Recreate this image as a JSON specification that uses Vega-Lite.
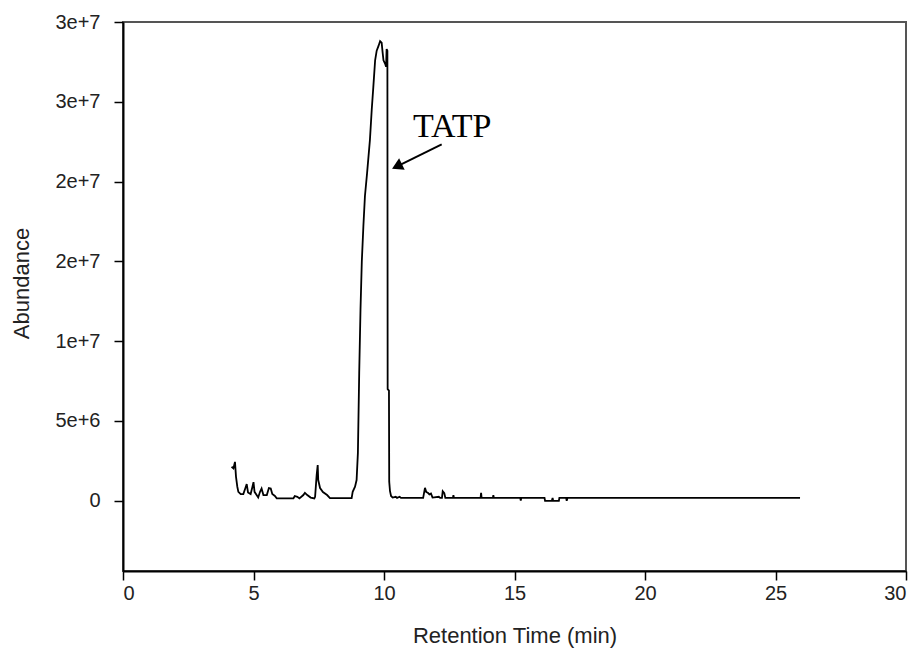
{
  "$schema": "https://vega.github.io/schema/vega-lite/v6.json",
  "autosize": {"type": "none"},
  "width": 783,
  "height": 549,
  "padding": {"left": 123, "top": 22, "right": 13, "bottom": 91},
  "background": "white",
  "config": {
    "view": {"stroke": "#555555", "strokeWidth": 2},
    "axis": {
      "labelFont": "Liberation Sans",
      "titleFont": "Liberation Sans",
      "labelFontSize": 20,
      "titleFontSize": 22,
      "labelColor": "#222222",
      "titleColor": "#222222",
      "titleFontWeight": "normal",
      "domainColor": "black",
      "domainWidth": 2,
      "tickColor": "black",
      "tickWidth": 1.5,
      "tickSize": 9,
      "grid": false
    }
  },
  "datasets": {
    "trace": [
      {"t": 4.16, "a": 2130000}, {"t": 4.23, "a": 2030000}, {"t": 4.29, "a": 2440000}, {"t": 4.33, "a": 1500000},
      {"t": 4.38, "a": 880000}, {"t": 4.42, "a": 560000}, {"t": 4.51, "a": 420000}, {"t": 4.61, "a": 420000},
      {"t": 4.69, "a": 800000}, {"t": 4.74, "a": 1050000}, {"t": 4.79, "a": 520000}, {"t": 4.89, "a": 420000},
      {"t": 4.96, "a": 880000}, {"t": 5.0, "a": 1170000}, {"t": 5.04, "a": 560000}, {"t": 5.12, "a": 360000},
      {"t": 5.18, "a": 210000}, {"t": 5.25, "a": 560000}, {"t": 5.31, "a": 770000}, {"t": 5.38, "a": 360000},
      {"t": 5.51, "a": 360000}, {"t": 5.59, "a": 800000}, {"t": 5.66, "a": 770000}, {"t": 5.72, "a": 420000},
      {"t": 5.82, "a": 300000}, {"t": 5.89, "a": 150000}, {"t": 6.53, "a": 150000}, {"t": 6.58, "a": 300000},
      {"t": 6.68, "a": 250000}, {"t": 6.76, "a": 150000}, {"t": 6.91, "a": 360000}, {"t": 6.97, "a": 500000},
      {"t": 7.06, "a": 360000}, {"t": 7.19, "a": 200000}, {"t": 7.33, "a": 150000}, {"t": 7.36, "a": 250000},
      {"t": 7.42, "a": 1610000}, {"t": 7.46, "a": 2240000}, {"t": 7.48, "a": 1300000}, {"t": 7.55, "a": 800000},
      {"t": 7.66, "a": 550000}, {"t": 7.82, "a": 360000}, {"t": 7.93, "a": 170000}, {"t": 8.76, "a": 170000},
      {"t": 8.80, "a": 560000}, {"t": 8.89, "a": 880000}, {"t": 8.95, "a": 1300000}, {"t": 9.0, "a": 3000000},
      {"t": 9.05, "a": 8000000}, {"t": 9.10, "a": 12000000}, {"t": 9.15, "a": 15000000}, {"t": 9.21, "a": 17200000},
      {"t": 9.27, "a": 19100000}, {"t": 9.35, "a": 20500000}, {"t": 9.46, "a": 22600000}, {"t": 9.53, "a": 24500000},
      {"t": 9.59, "a": 25900000}, {"t": 9.66, "a": 27600000}, {"t": 9.72, "a": 28200000}, {"t": 9.79, "a": 28500000},
      {"t": 9.85, "a": 28800000}, {"t": 9.91, "a": 28700000}, {"t": 9.95, "a": 28050000}, {"t": 9.98, "a": 27600000},
      {"t": 10.04, "a": 27400000}, {"t": 10.08, "a": 27200000}, {"t": 10.10, "a": 28300000}, {"t": 10.13, "a": 28200000},
      {"t": 10.14, "a": 7000000}, {"t": 10.19, "a": 6900000}, {"t": 10.20, "a": 1200000}, {"t": 10.23, "a": 600000},
      {"t": 10.27, "a": 300000}, {"t": 10.33, "a": 200000}, {"t": 10.45, "a": 250000}, {"t": 10.5, "a": 180000},
      {"t": 10.6, "a": 250000}, {"t": 10.65, "a": 180000}, {"t": 11.5, "a": 180000}, {"t": 11.57, "a": 810000},
      {"t": 11.62, "a": 550000}, {"t": 11.68, "a": 500000}, {"t": 11.74, "a": 400000}, {"t": 11.8, "a": 450000},
      {"t": 11.86, "a": 200000}, {"t": 12.1, "a": 250000}, {"t": 12.15, "a": 180000}, {"t": 12.22, "a": 180000},
      {"t": 12.25, "a": 600000}, {"t": 12.31, "a": 480000}, {"t": 12.35, "a": 180000}, {"t": 12.64, "a": 180000},
      {"t": 12.66, "a": 350000}, {"t": 12.68, "a": 180000}, {"t": 13.70, "a": 180000}, {"t": 13.72, "a": 500000},
      {"t": 13.74, "a": 180000}, {"t": 14.17, "a": 180000}, {"t": 14.19, "a": 350000}, {"t": 14.21, "a": 180000},
      {"t": 15.22, "a": 180000}, {"t": 15.24, "a": 20000}, {"t": 15.26, "a": 180000}, {"t": 16.15, "a": 180000},
      {"t": 16.17, "a": 0}, {"t": 16.43, "a": 0}, {"t": 16.46, "a": 180000}, {"t": 16.48, "a": 0},
      {"t": 16.70, "a": 0}, {"t": 16.72, "a": 180000}, {"t": 16.98, "a": 180000}, {"t": 17.0, "a": 0},
      {"t": 17.03, "a": 180000}, {"t": 25.94, "a": 180000}
    ],
    "label": [{"t": 11.11, "a": 22790000, "text": "TATP"}],
    "arrow": [{"t": 12.21, "a": 22330000, "t2": 10.56, "a2": 21000000}]
  },
  "layer": [
    {
      "data": {"name": "trace"},
      "mark": {"type": "line", "color": "black", "strokeWidth": 1.8, "clip": true},
      "encoding": {
        "x": {
          "field": "t", "type": "quantitative",
          "scale": {"domain": [0, 30], "nice": false, "zero": false},
          "axis": {"values": [0, 5, 10, 15, 20, 25, 30], "title": "Retention Time (min)", "labelPadding": 3, "titlePadding": 22}
        },
        "y": {
          "field": "a", "type": "quantitative",
          "scale": {"domain": [-4400000, 30000000], "nice": false, "zero": false},
          "axis": {
            "values": [0, 5000000, 10000000, 15000000, 20000000, 25000000, 30000000],
            "labelExpr": "datum.value == 0 ? '0' : format(datum.value, '.0e')",
            "title": "Abundance",
            "labelPadding": 14,
            "titleX": -90,
            "titleY": 261
          }
        }
      }
    },
    {
      "data": {"name": "arrow"},
      "mark": {"type": "rule", "color": "black", "strokeWidth": 2},
      "encoding": {
        "x": {"field": "t", "type": "quantitative"},
        "y": {"field": "a", "type": "quantitative"},
        "x2": {"field": "t2"},
        "y2": {"field": "a2"}
      }
    },
    {
      "data": {"name": "arrow"},
      "mark": {"type": "point", "shape": "triangle", "filled": true, "color": "black", "size": 160, "angle": 244, "opacity": 1},
      "encoding": {
        "x": {"field": "t2", "type": "quantitative"},
        "y": {"field": "a2", "type": "quantitative"}
      }
    },
    {
      "data": {"name": "label"},
      "mark": {"type": "text", "font": "Liberation Serif", "fontSize": 34, "align": "left", "baseline": "alphabetic", "color": "black"},
      "encoding": {
        "x": {"field": "t", "type": "quantitative"},
        "y": {"field": "a", "type": "quantitative"},
        "text": {"field": "text"}
      }
    }
  ]
}
